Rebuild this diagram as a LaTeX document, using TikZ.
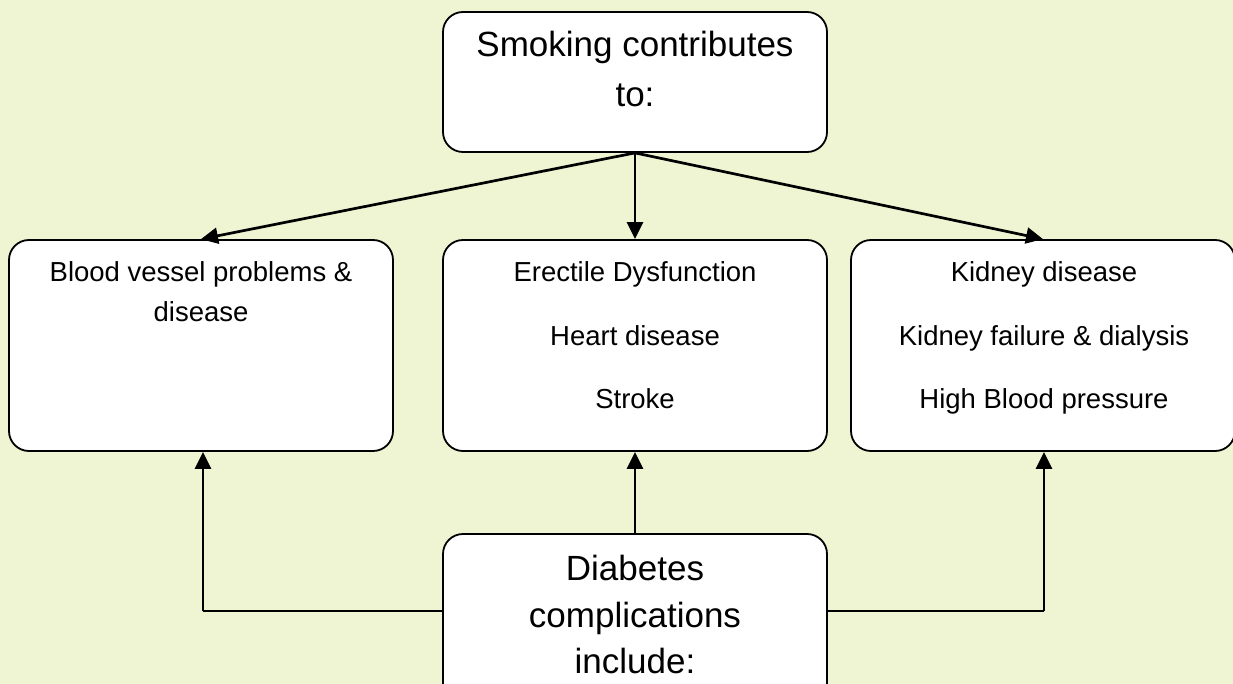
\documentclass[tikz,border=0pt]{standalone}
\usepackage{fontspec}
\setmainfont{Liberation Sans}
\usetikzlibrary{arrows.meta}
\definecolor{bg}{RGB}{239,245,211}
\begin{document}
\begin{tikzpicture}[x=1pt,y=-1pt,
 box/.style={draw=black, line width=1.8pt, fill=white, rounded corners=20pt, minimum width=384pt, inner sep=0pt},
 big/.style={font=\fontsize{35}{42}\selectfont, anchor=base, inner sep=0pt},
 small/.style={font=\fontsize{27.5}{33}\selectfont, anchor=base, inner sep=0pt},
 arr/.style={line width=2.7pt, -{Triangle[length=17pt,width=16pt]}},
 conn/.style={line width=2pt}]
\useasboundingbox (0,0) rectangle (1233,684);
\fill[bg] (0,0) rectangle (1233,684);
\clip (0,0) rectangle (1233,684);
% boxes
\node[box, minimum height=140pt] (smoke) at (635,82) {};
\node[box, minimum height=211pt] (left) at (201,345.5) {};
\node[box, minimum height=211pt] (mid) at (635,345.5) {};
\node[box, minimum height=211pt] (right) at (1043,345.5) {};
\node[box, minimum height=170pt] (dia) at (635,619) {};
% texts
\node[big] (s1) at (635,57) {Smoking contributes};
\node[big] (s2) at (635,107) {to:};
\node[small] (l1) at (201,282) {Blood vessel problems \&};
\node[small] (l2) at (201,322) {disease};
\node[small] (m1) at (635,282) {Erectile Dysfunction};
\node[small] (m2) at (635,345) {Heart disease};
\node[small] (m3) at (635,408) {Stroke};
\node[small] (r1) at (1044,282) {Kidney disease};
\node[small] (r2) at (1044,345) {Kidney failure \& dialysis};
\node[small] (r3) at (1044,408) {High Blood pressure};
\node[big] (d1) at (635,580) {Diabetes};
\node[big] (d2) at (635,627) {complications};
\node[big] (d3) at (635,673) {include:};
% top arrows
\draw[arr] (smoke.south) -- (left.north);
\draw[arr] (smoke.south) -- (mid.north);
\draw[arr] (smoke.south) -- (right.north);
% bottom connectors
\coordinate (cL) at (203,611);
\coordinate (cR) at (1044,611);
\draw[conn] (dia.west |- cL) -- (cL);
\draw[arr] (cL) -- (cL |- left.south);
\draw[arr] (dia.north) -- (mid.south);
\draw[conn] (dia.east |- cR) -- (cR);
\draw[arr] (cR) -- (cR |- right.south);
\end{tikzpicture}
\end{document}
